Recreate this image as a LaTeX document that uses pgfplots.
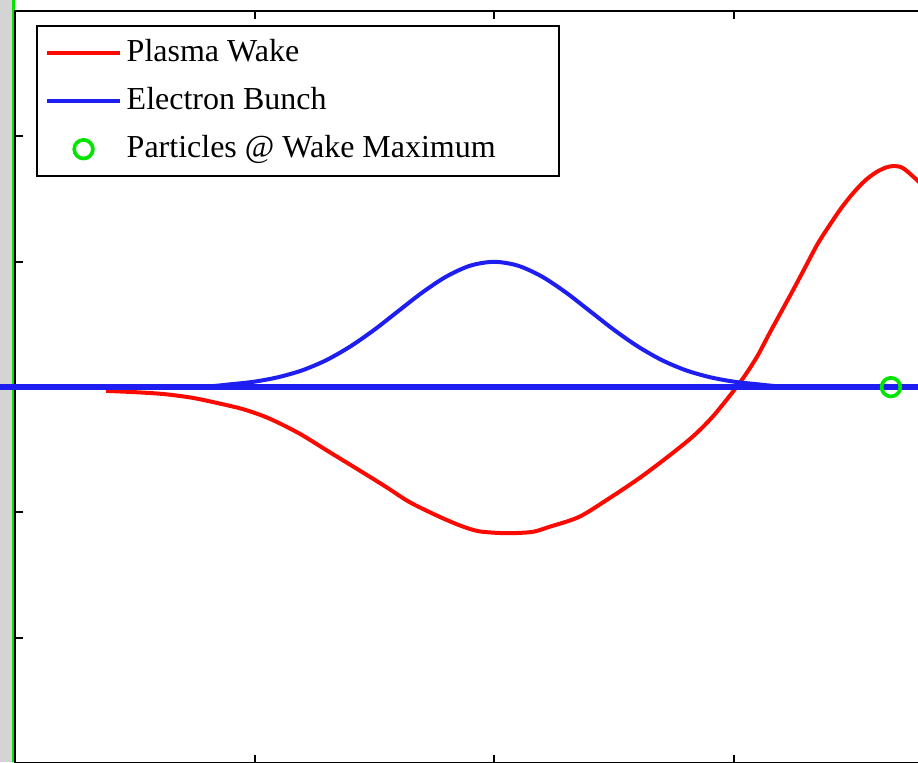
\documentclass[border=0pt]{standalone}
\usepackage{pgfplots}
\pgfplotsset{compat=1.18}
\usepackage{fontspec}
\setmainfont{Liberation Serif}

\definecolor{wakered}{RGB}{250,10,0}
\definecolor{bunchblue}{RGB}{30,30,240}
\definecolor{figgray}{RGB}{212,212,212}
\definecolor{markgreen}{RGB}{0,230,0}

\pgfplotsset{
  short line entry/.style={legend image code/.code={\draw[##1] (0pt,0pt) -- (21.9pt,0pt);}},
  single mark entry/.style={legend image code/.code={\draw[mark repeat=2,mark phase=2,##1] plot coordinates {(0pt,0pt) (10.95pt,0pt) (21.9pt,0pt)};}},
}

% wake field behind the drive bunch
\pgfplotstableread{
x      y
0.38  -0.030
0.50  -0.040
0.62  -0.055
0.74  -0.085
0.852 -0.130
0.956 -0.178
1.061 -0.250
1.186 -0.369
1.311 -0.516
1.436 -0.662
1.548 -0.795
1.645 -0.915
1.757 -1.021
1.854 -1.101
1.937 -1.150
2.05  -1.165
2.159 -1.155
2.230 -1.115
2.355 -1.035
2.480 -0.888
2.605 -0.728
2.717 -0.568
2.828 -0.397
2.912 -0.237
3.00  -0.030
3.05   0.100
3.10   0.250
3.15   0.430
3.20   0.605
3.25   0.780
3.30   0.960
3.35   1.140
3.40   1.290
3.45   1.430
3.50   1.550
3.55   1.650
3.60   1.720
3.65   1.760
3.70   1.755
3.75   1.680
3.80   1.590
}\waketable

% longitudinal profile of the electron bunch
\pgfplotstableread{
x      y
0.38   0.000
0.60   0.000
0.80   0.006
0.90   0.023
1.00   0.044
1.10   0.080
1.20   0.135
1.30   0.216
1.40   0.325
1.50   0.458
1.60   0.607
1.70   0.755
1.80   0.882
1.90   0.969
2.00   1.000
2.10   0.969
2.20   0.882
2.30   0.755
2.40   0.607
2.50   0.458
2.60   0.325
2.70   0.216
2.80   0.135
2.90   0.080
3.00   0.044
3.10   0.023
3.20   0.006
3.40   0.000
3.90   0.000
}\bunchtable

\begin{document}
\begin{tikzpicture}[x=1pt,y=1pt]
\useasboundingbox (0,0) rectangle (275.4,228.6);
\clip (0,0) rectangle (275.4,228.6);
\fill[figgray] (0,0) rectangle (3.7,228.6);
\draw[markgreen, line width=0.75pt] (4.05,0) -- (4.05,228.6);
\begin{axis}[
  at={(6.3,-0.9)}, anchor=south west,
  scale only axis, width=287.4pt, height=225.6pt,
  xmin=0, xmax=4, ymin=-3, ymax=3,
  xtick={1,2,3}, ytick={-2,-1,0,1,2},
  xticklabels={}, yticklabels={},
  tick align=inside, major tick length=2.4pt,
  tick style={black, line width=0.6pt},
  axis line style={line width=0.6pt},
  clip=false,
  legend cell align=left,
  legend style={
    at={(axis description cs:0.0219,0.982)}, anchor=north west,
    draw=black, line width=0.6pt,
    inner xsep=2.4pt, inner ysep=2.25pt, row sep=2.65pt,
    font=\fontsize{9.6}{11}\selectfont,
    nodes={text height=7pt, text depth=2pt, inner sep=1.4pt},
  },
]
\addplot[wakered, line width=1.2pt, smooth, short line entry] table[x=x,y=y] {\waketable};
\addlegendentry{Plasma Wake}
\addplot[bunchblue, line width=1.6pt, forget plot] coordinates {(-0.07,0) (3.9,0)};
\addplot[bunchblue, line width=1.2pt, smooth, short line entry] table[x=x,y=y] {\bunchtable};
\addlegendentry{Electron Bunch}
\addplot[markgreen, only marks, mark=o, mark size=2.8pt, line width=1.1pt, single mark entry]
  coordinates {(3.657,0)};
\addlegendentry{Particles @ Wake Maximum\rule{15.3pt}{0pt}}
\end{axis}
\end{tikzpicture}
\end{document}
